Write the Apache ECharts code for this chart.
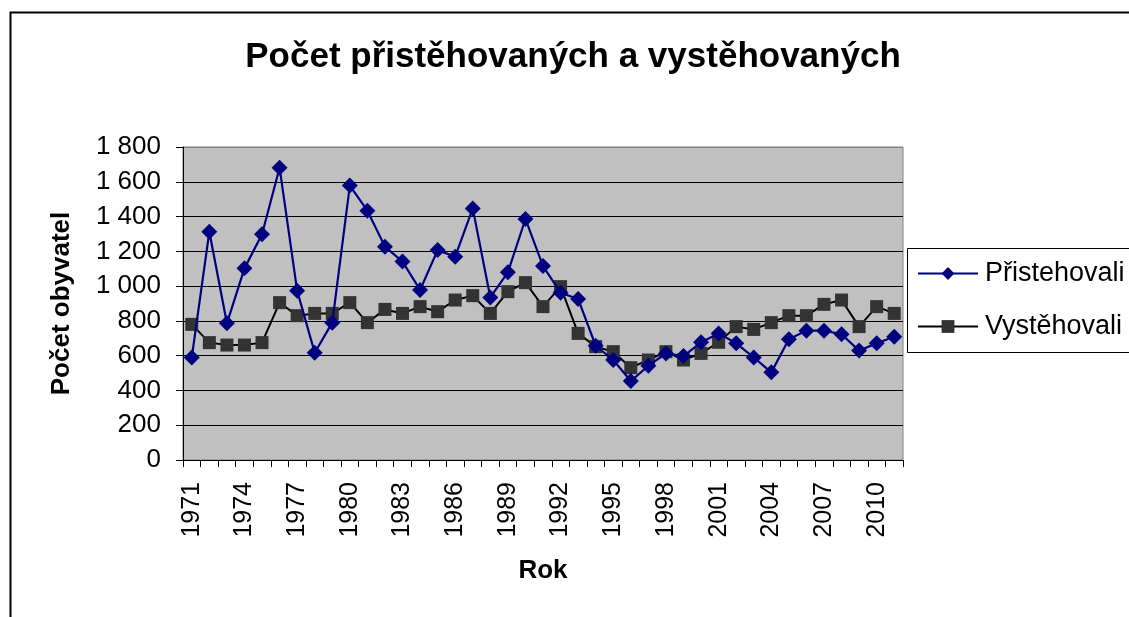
<!DOCTYPE html>
<html>
<head>
<meta charset="utf-8">
<script src="https://cdn.jsdelivr.net/npm/echarts@6/dist/echarts.min.js"></script>
<style>
html,body{margin:0;padding:0;background:#fff;}
#chart{width:1129px;height:617px;}
</style>
</head>
<body>
<div id="chart"></div>
<script>
const years = ['1971','1972','1973','1974','1975','1976','1977','1978','1979','1980','1981','1982','1983','1984','1985','1986','1987','1988','1989','1990','1991','1992','1993','1994','1995','1996','1997','1998','1999','2000','2001','2002','2003','2004','2005','2006','2007','2008','2009','2010','2011'];
const pristehovali = [590,1313,786,1102,1298,1681,974,617,790,1578,1434,1227,1141,978,1207,1169,1447,935,1079,1386,1115,962,926,657,575,454,542,613,598,677,728,671,590,504,694,744,744,723,629,671,709];
const vystehovali = [780,675,661,661,675,905,830,843,843,905,790,866,843,882,853,920,945,843,968,1020,882,997,728,652,623,531,575,623,575,613,677,767,751,790,830,830,895,920,767,882,843];
const seriesNames = ['Přistehovali','Vystěhovali'];
const titleText = 'Počet přistěhovaných a vystěhovaných';
const yName = 'Počet obyvatel';
const xName = 'Rok';

const font = '"Liberation Sans", Arial, sans-serif';
const chart = echarts.init(document.getElementById('chart'), null, {renderer:'canvas'});
const gridColors = ['#000','#000','#000','#000','#000','#000','#000','#000','#000','#808080'];
chart.setOption({
  animation:false,
  backgroundColor:'#fff',
  title:{text:titleText,left:573,top:40,textAlign:'center',padding:0,
    textStyle:{fontFamily:font,fontWeight:'bold',fontSize:35,color:'#000'}},
  graphic:[
    {type:'rect',left:8,top:10,shape:{width:1200,height:700},style:{fill:'none',stroke:'#000',lineWidth:2},silent:true,z:-1},
    {type:'rect',left:907,top:248,shape:{width:300,height:104},style:{fill:'#fff',stroke:'#000',lineWidth:1},silent:true,z:0}
  ],
  legend:{orient:'vertical',left:917,top:260,padding:0,itemGap:26,itemWidth:60,itemHeight:16,
    textStyle:{fontFamily:font,fontSize:27,color:'#000',padding:[0,0,0,2]},z:5,
    data:seriesNames},
  grid:{left:183,top:147,right:226,bottom:157,show:true,backgroundColor:'#c0c0c0',borderColor:'#808080',borderWidth:1},
  xAxis:{type:'category',data:years,boundaryGap:true,
    name:xName,nameLocation:'middle',nameGap:98,
    nameTextStyle:{fontFamily:font,fontWeight:'bold',fontSize:26,color:'#000'},
    axisLine:{lineStyle:{color:'#000',width:1}},
    axisTick:{show:true,interval:0,length:7,lineStyle:{color:'#000'}},
    axisLabel:{interval:2,rotate:90,margin:22,fontFamily:font,fontSize:25,color:'#000'},
    splitLine:{show:false}},
  yAxis:{type:'value',min:0,max:1800,interval:200,
    name:yName,nameLocation:'middle',nameGap:108,nameRotate:90,
    nameTextStyle:{fontFamily:font,fontWeight:'bold',fontSize:26,color:'#000'},
    axisLine:{show:true,lineStyle:{color:'#000',width:1}},
    axisTick:{show:true,length:7,lineStyle:{color:'#000'}},
    axisLabel:{margin:22,fontFamily:font,fontSize:26,color:'#000',
      formatter:v=>String(v).replace(/\B(?=(\d{3})+(?!\d))/g,' ')},
    splitLine:{show:true,lineStyle:{color:gridColors,width:1}}},
  series:[
    {name:seriesNames[0],type:'line',data:pristehovali,symbol:'diamond',symbolSize:16,showAllSymbol:true,
      lineStyle:{color:'#000080',width:2.2},itemStyle:{color:'#000080'},z:3},
    {name:seriesNames[1],type:'line',data:vystehovali,symbol:'rect',symbolSize:13,showAllSymbol:true,
      lineStyle:{color:'#000',width:2},itemStyle:{color:'#333333'},z:2}
  ]
});
</script>
</body>
</html>
